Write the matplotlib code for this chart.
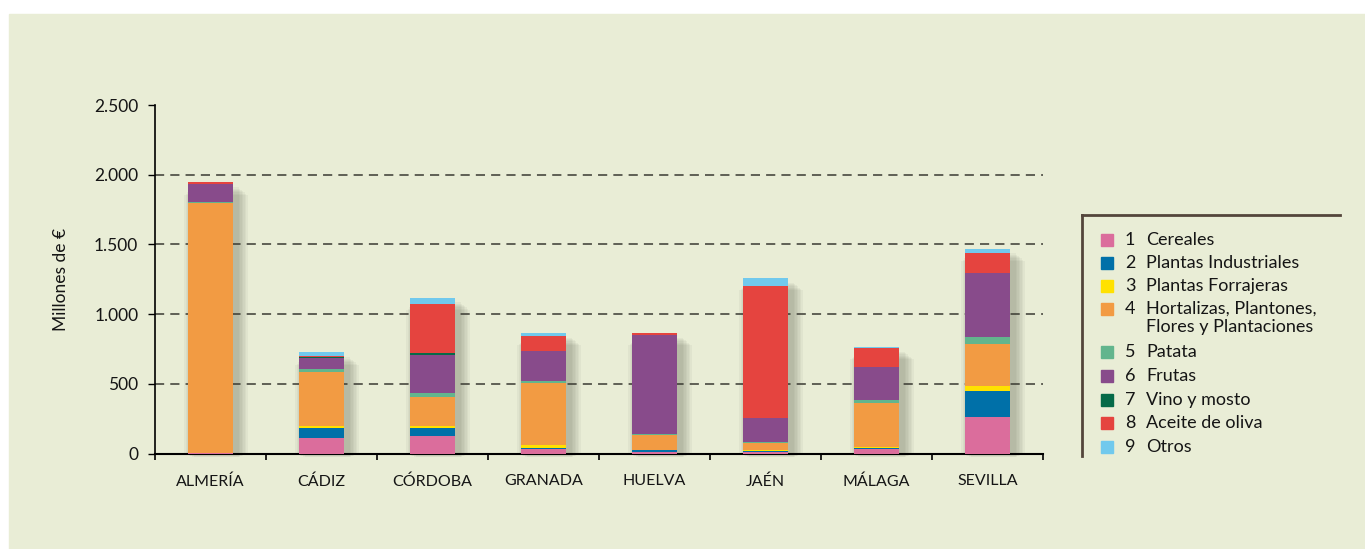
import matplotlib.pyplot as plt
from matplotlib.patches import Rectangle
from matplotlib.ticker import FuncFormatter, FixedLocator
import numpy as np

plt.rcParams['font.family'] = ['Lato', 'DejaVu Sans']

provincias = ['ALMERÍA', 'CÁDIZ', 'CÓRDOBA', 'GRANADA', 'HUELVA', 'JAÉN', 'MÁLAGA', 'SEVILLA']
grupos = ['Cereales', 'Plantas Industriales', 'Plantas Forrajeras',
          'Hortalizas, Plantones,\nFlores y Plantaciones', 'Patata', 'Frutas',
          'Vino y mosto', 'Aceite de oliva', 'Otros']
colores = ['#db6d9c', '#0070a8', '#ffe100', '#f29b43', '#62b58d',
           '#884b8b', '#056a48', '#e5443f', '#71c9ed']

# millones de euros, por provincia (en el orden de provincias)
cereales      = [2, 110, 125, 31, 10, 10, 29, 260]
industriales  = [0, 72, 58, 7, 12, 10, 14, 187]
forrajeras    = [3, 14, 14, 22, 3, 5, 7, 36]
hortalizas    = [1795, 389, 209, 447, 110, 50, 310, 303]
patata        = [5, 22, 29, 14, 5, 7, 22, 50]
frutas        = [130, 79, 274, 216, 710, 173, 238, 461]
vino          = [0, 3, 14, 0, 0, 3, 0, 0]
aceite        = [10, 14, 353, 108, 12, 944, 137, 144]
otros         = [0, 22, 43, 22, 5, 58, 7, 29]
series = [cereales, industriales, forrajeras, hortalizas, patata, frutas, vino, aceite, otros]

fondo = '#e9edd6'
txt = '#151515'
fig = plt.figure(figsize=(13.65, 5.49), dpi=100)
fig.patch.set_facecolor('white')
fig.patches.append(Rectangle((9 / 1365, 0), 1 - 9 / 1365, 1 - 14 / 549,
                             transform=fig.transFigure, color=fondo, zorder=-10))

ax = fig.add_axes([155 / 1365, 95.5 / 549, 888 / 1365, 348.5 / 549])
ax.set_facecolor('none')
ax.set_clip_on(False)

x = np.arange(len(provincias))
ancho = 0.405
totales = np.sum(series, axis=0)

# sombra difusa detrás de las barras
for i in range(7):
    d = 0.014 * i
    b = ax.bar(x + 0.05, totales - 10 - 12 * i, width=ancho + 2 * d, bottom=-25 + 3 * i,
               color='#5f6450', alpha=0.06, linewidth=0, zorder=1)
    for p in b:
        p.set_clip_on(False)

base = np.zeros(len(provincias))
for vals, col in zip(series, colores):
    ax.bar(x, vals, width=ancho, bottom=base, color=col, linewidth=0, zorder=3)
    base += np.array(vals)

ax.set_xlim(-0.5, 7.5)
ax.set_ylim(0, 2500)
ax.set_yticks([0, 500, 1000, 1500, 2000, 2500])
ax.yaxis.set_major_formatter(FuncFormatter(lambda v, p: f'{int(v):,}'.replace(',', '.')))
for v in [500, 1000, 1500, 2000]:
    ax.axhline(v, color='#3a3a32', lw=1.1, dashes=(6, 4), zorder=2)

ax.set_xticks(x)
ax.set_xticklabels(provincias)
ax.xaxis.set_minor_locator(FixedLocator(np.arange(-0.5, 8, 1)))
ax.tick_params(axis='x', which='major', length=0, pad=15, labelsize=11.5, labelcolor=txt)
ax.tick_params(axis='x', which='minor', length=4, width=1.2, direction='out', color='black')
ax.tick_params(axis='y', length=5, width=1, direction='out', labelsize=12.5, pad=7,
               color='black', labelcolor=txt)
for s in ['top', 'right']:
    ax.spines[s].set_visible(False)
ax.spines['left'].set_linewidth(1.2)
ax.spines['bottom'].set_linewidth(1.5)
ax.set_ylabel('Millones de €', fontsize=12.5, labelpad=18, color=txt)

# leyenda con solo bordes superior e izquierdo
W, H = 1365, 549
fig.add_artist(plt.Line2D([1082 / W, 1340 / W], [1 - 215 / H, 1 - 215 / H],
                          color='#54463c', lw=2, transform=fig.transFigure))
fig.add_artist(plt.Line2D([1082 / W, 1082 / W], [1 - 215 / H, 1 - 456 / H],
                          color='#54463c', lw=2, transform=fig.transFigure))
filas = [240, 263, 286, 309, 352, 376, 400, 423, 447]
for k, (nombre, col, yy) in enumerate(zip(grupos, colores, filas)):
    fig.patches.append(Rectangle((1101 / W, 1 - (yy + 6) / H), 12 / W, 12 / H,
                                 transform=fig.transFigure, color=col))
    fig.text(1125 / W, 1 - yy / H, str(k + 1), fontsize=13, va='center', color=txt)
    if '\n' in nombre:
        fig.text(1146 / W, 1 - (yy + 9) / H, nombre, fontsize=13, va='center',
                 color=txt, linespacing=1.15)
    else:
        fig.text(1146 / W, 1 - yy / H, nombre, fontsize=13, va='center', color=txt)

fig.savefig('out.png', dpi=100, facecolor='white')
